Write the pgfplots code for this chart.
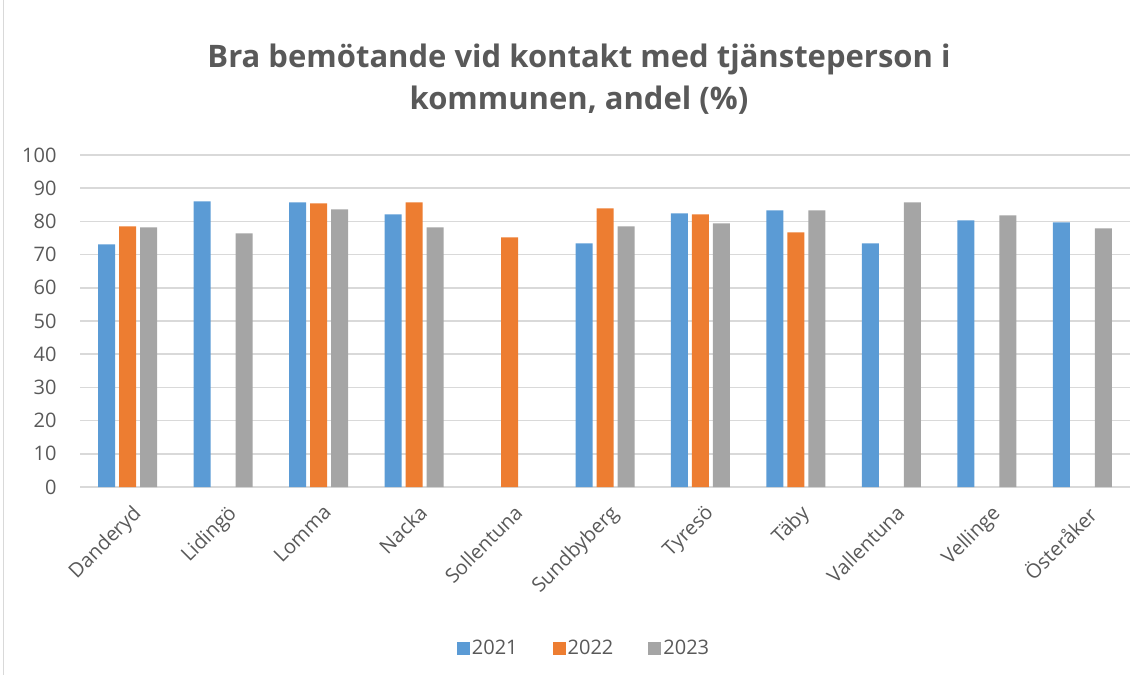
\documentclass[border=0pt]{standalone}
\usepackage{pgfplots}
\pgfplotsset{compat=1.18}
\usepackage{fontspec}
\setmainfont{Open Sans}
\definecolor{c21}{HTML}{5B9BD5}
\definecolor{c22}{HTML}{ED7D31}
\definecolor{c23}{HTML}{A5A5A5}
\definecolor{txt}{HTML}{595959}
\definecolor{gridc}{HTML}{D9D9D9}
\begin{document}
\begin{tikzpicture}
\useasboundingbox (0,0) rectangle (1147pt,674pt);
\draw[gridc, line width=1pt] (3.5pt,-5pt) rectangle (1152pt,690pt);
\node[font=\fontsize{31}{42}\selectfont\bfseries, text=txt, align=center] at (579pt,595pt)
  {Bra bemötande vid kontakt med tjänsteperson i\\kommunen, andel (\%)};
\begin{axis}[
  at={(80pt,187pt)}, anchor=south west,
  scale only axis, width=1050pt, height=332pt,
  ybar=4pt, bar width=17pt,
  xmin=-0.5, xmax=10.5, ymin=0, ymax=100,
  ytick={0,10,...,100},
  xtick={0,...,10},
  xticklabels={Danderyd,Lidingö,Lomma,Nacka,Sollentuna,Sundbyberg,Tyresö,Täby,Vallentuna,Vellinge,Österåker},
  x tick label style={rotate=45, anchor=north east, font=\fontsize{20}{24}\selectfont, text=txt, inner sep=0pt, xshift=5pt},
  y tick label style={font=\fontsize{20}{24}\selectfont, text=txt},
  /pgf/number format/assume math mode=true,
  ymajorgrids, major grid style={draw=gridc, line width=1.5pt},
  axis line style={draw=none},
  major tick length=0pt,
  xticklabel shift=20pt,
  yticklabel shift=20pt,
  legend style={at={(0.48,-0.485)}, anchor=center, draw=none, font=\fontsize{20}{24}\selectfont, text=txt,
    legend columns=-1, /tikz/every even column/.append style={column sep=33pt}},
  legend image code/.code={\fill[#1] (0pt,-7pt) rectangle (13pt,6pt);},
]
\draw[gridc, line width=1.5pt] (axis cs:-0.5,0) -- (axis cs:10.5,0);
\addplot[fill=c21, draw=none] coordinates {(0,73.1)(1,86.0)(2,85.7)(3,82.1)(5,73.4)(6,82.4)(7,83.3)(8,73.4)(9,80.3)(10,79.7)};
\addplot[fill=c22, draw=none] coordinates {(0,78.5)(2,85.4)(3,85.7)(4,75.2)(5,83.9)(6,82.1)(7,76.7)};
\addplot[fill=c23, draw=none] coordinates {(0,78.2)(1,76.4)(2,83.6)(3,78.2)(5,78.5)(6,79.4)(7,83.3)(8,85.7)(9,81.8)(10,77.9)};
\legend{2021,2022,2023}
\end{axis}
\end{tikzpicture}
\end{document}
